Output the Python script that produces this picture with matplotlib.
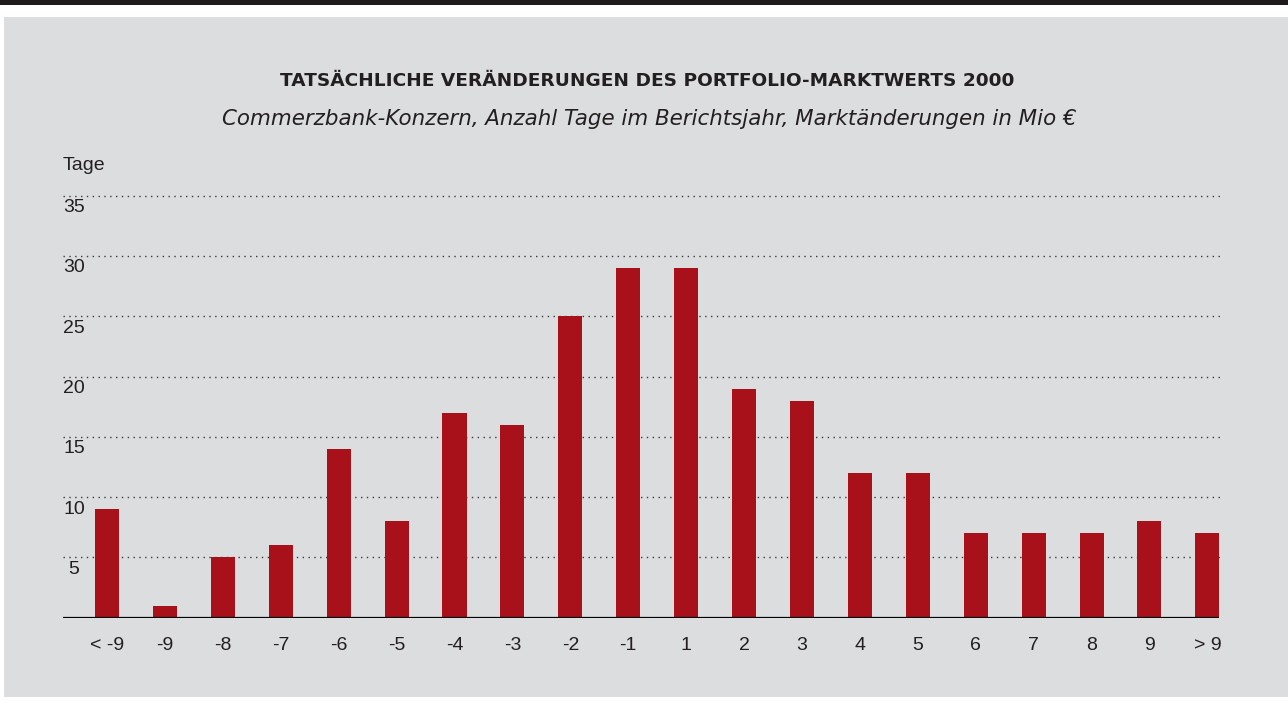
import matplotlib
matplotlib.use("Agg")
import matplotlib.pyplot as plt
from matplotlib.patches import Rectangle

categories = ["< -9", "-9", "-8", "-7", "-6", "-5", "-4", "-3", "-2", "-1",
              "1", "2", "3", "4", "5", "6", "7", "8", "9", "> 9"]
days = [9, 1, 5, 6, 14, 8, 17, 16, 25, 29, 29, 19, 18, 12, 12, 7, 7, 7, 8, 7]
yticks = [5, 10, 15, 20, 25, 30, 35]

title = "TATSÄCHLICHE VERÄNDERUNGEN DES PORTFOLIO-MARKTWERTS 2000"
subtitle = "Commerzbank-Konzern, Anzahl Tage im Berichtsjahr, Marktänderungen in Mio €"
ylabel = "Tage"

BAR = "#A8101A"
BG = "#DCDDDF"
TXT = "#231F20"

W, H = 1288, 707
fig = plt.figure(figsize=(W / 100, H / 100), dpi=100, facecolor="white")

# background panel and top band
fig.patches.append(Rectangle((4 / W, 10 / H), 1 - 4 / W, 680 / H,
                             transform=fig.transFigure, facecolor=BG,
                             edgecolor="none", zorder=-10))
fig.patches.append(Rectangle((0, 1 - 5 / H), 1, 5 / H,
                             transform=fig.transFigure, facecolor="#1E1A1B",
                             edgecolor="none", zorder=-10))

ax = fig.add_axes([63 / W, 89.3 / H, 1160 / W, 425.7 / H])
ax.set_facecolor("none")
ax.set_zorder(1)
x = list(range(len(categories)))
ax.set_xlim(-0.76, 19.27)
ax.set_ylim(0, 35.3)

for v in yticks:
    ax.axhline(v, color="#3a3a3a", lw=1.0, linestyle=(0, (1, 3.2)), zorder=1)
    ax.text(-0.57, v - 1.0, str(v), ha="center", va="center", fontsize=14,
            color=TXT, family=["Liberation Sans", "DejaVu Sans"])

ax.bar(x, days, width=0.415, color=BAR, zorder=2)
ax.plot([-0.76, 19.2], [0, 0], color="black", lw=1.6, zorder=3,
        solid_capstyle="butt")

for s in ax.spines.values():
    s.set_visible(False)
ax.set_yticks([])
ax.set_xticks(x)
ax.set_xticklabels(categories, fontsize=14, color=TXT,
                   family=["Liberation Sans Narrow", "Liberation Sans", "DejaVu Sans"])
ax.tick_params(axis="x", length=0, pad=14)

fig.text(63 / W, 1 - 165 / H, ylabel, ha="left", va="center", fontsize=14,
         color=TXT, family=["Liberation Sans", "DejaVu Sans"])
fig.text(647 / W, 1 - 81 / H, title, ha="center", va="center", fontsize=13.3,
         fontweight="bold", color=TXT, family=["DejaVu Sans"])
fig.text(649 / W, 1 - 119 / H, subtitle, ha="center", va="center", fontsize=15.4,
         style="italic", color=TXT, family=["DejaVu Sans"])

fig.savefig("out.png", dpi=100, facecolor="white")
